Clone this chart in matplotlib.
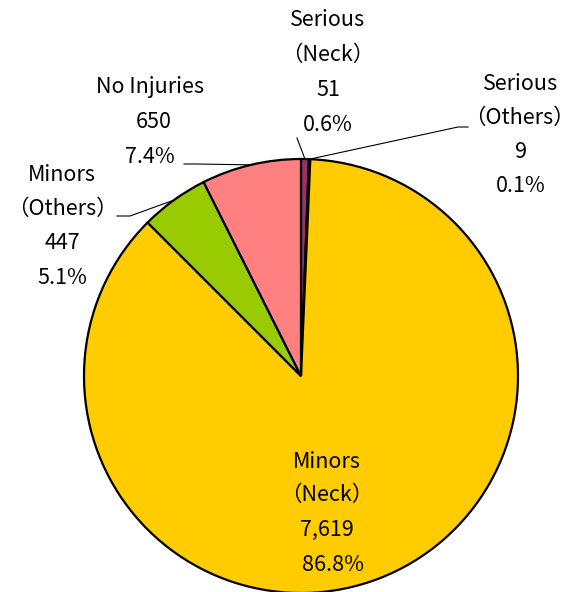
import numpy as np
import matplotlib
matplotlib.use("Agg")
import matplotlib.pyplot as plt

plt.rcParams['font.family'] = ['Noto Sans CJK JP', 'DejaVu Sans']

categories = ["Serious\n（Neck）", "Serious\n（Others）", "Minors\n（Neck）", "Minors\n（Others）", "No Injuries"]
values = [51, 9, 7619, 447, 650]
colors = ["#993366", "#1F1F3F", "#FFCC00", "#99CC00", "#FF8080"]

W, H = 575, 592
fig = plt.figure(figsize=(W / 100, H / 100), dpi=100)
ax = fig.add_axes([0, 0, 1, 1])

cx, cy, R = 301, H - 376, 217
wedges, _ = ax.pie(values, colors=colors, startangle=90, counterclock=False,
                   center=(cx, cy), radius=R, frame=True,
                   wedgeprops=dict(edgecolor='black', linewidth=1.6))
ax.set_xlim(0, W)
ax.set_ylim(0, H)
ax.axis('off')
ax.set_aspect('equal')

total = sum(values)
layout = {
    0: dict(x=328, y=[20, 55, 90, 125]),
    1: dict(x=519, y=[84, 118, 152, 186], dx=[2, 0, 2, 2]),
    2: dict(x=327, y=[462, 495, 530, 565], dx=[0, 0, 0, 6]),
    3: dict(x=62, y=[175, 209, 243, 278]),
    4: dict(x=150, y=[87, 122, 157], dx=[0, 4, 0]),
}
fs = 15.5
for i, (name, v) in enumerate(zip(categories, values)):
    lines = name.split("\n") + [f"{v:,}", f"{v / total * 100:.1f}%"]
    L = layout[i]
    dx = L.get('dx', [0] * len(lines))
    for j, (t, yy) in enumerate(zip(lines, L['y'])):
        ax.text(L['x'] + dx[j], H - yy, t, ha='center', va='center', fontsize=fs, color='black')

def edge_point(w):
    th = np.deg2rad((w.theta1 + w.theta2) / 2)
    return cx + R * np.cos(th), cy + R * np.sin(th)

leaders = {
    0: [(297, 138)],
    1: [(468, 127), (458, 127)],
    3: [(117, 216), (130, 216)],
    4: [(184, 164), (196, 164)],
}
for i, pts in leaders.items():
    ex, ey = edge_point(wedges[i])
    xs = [p[0] for p in pts] + [ex]
    ys = [H - p[1] for p in pts] + [ey]
    ax.plot(xs, ys, color='black', linewidth=0.8)

fig.savefig("out.png", dpi=100)
